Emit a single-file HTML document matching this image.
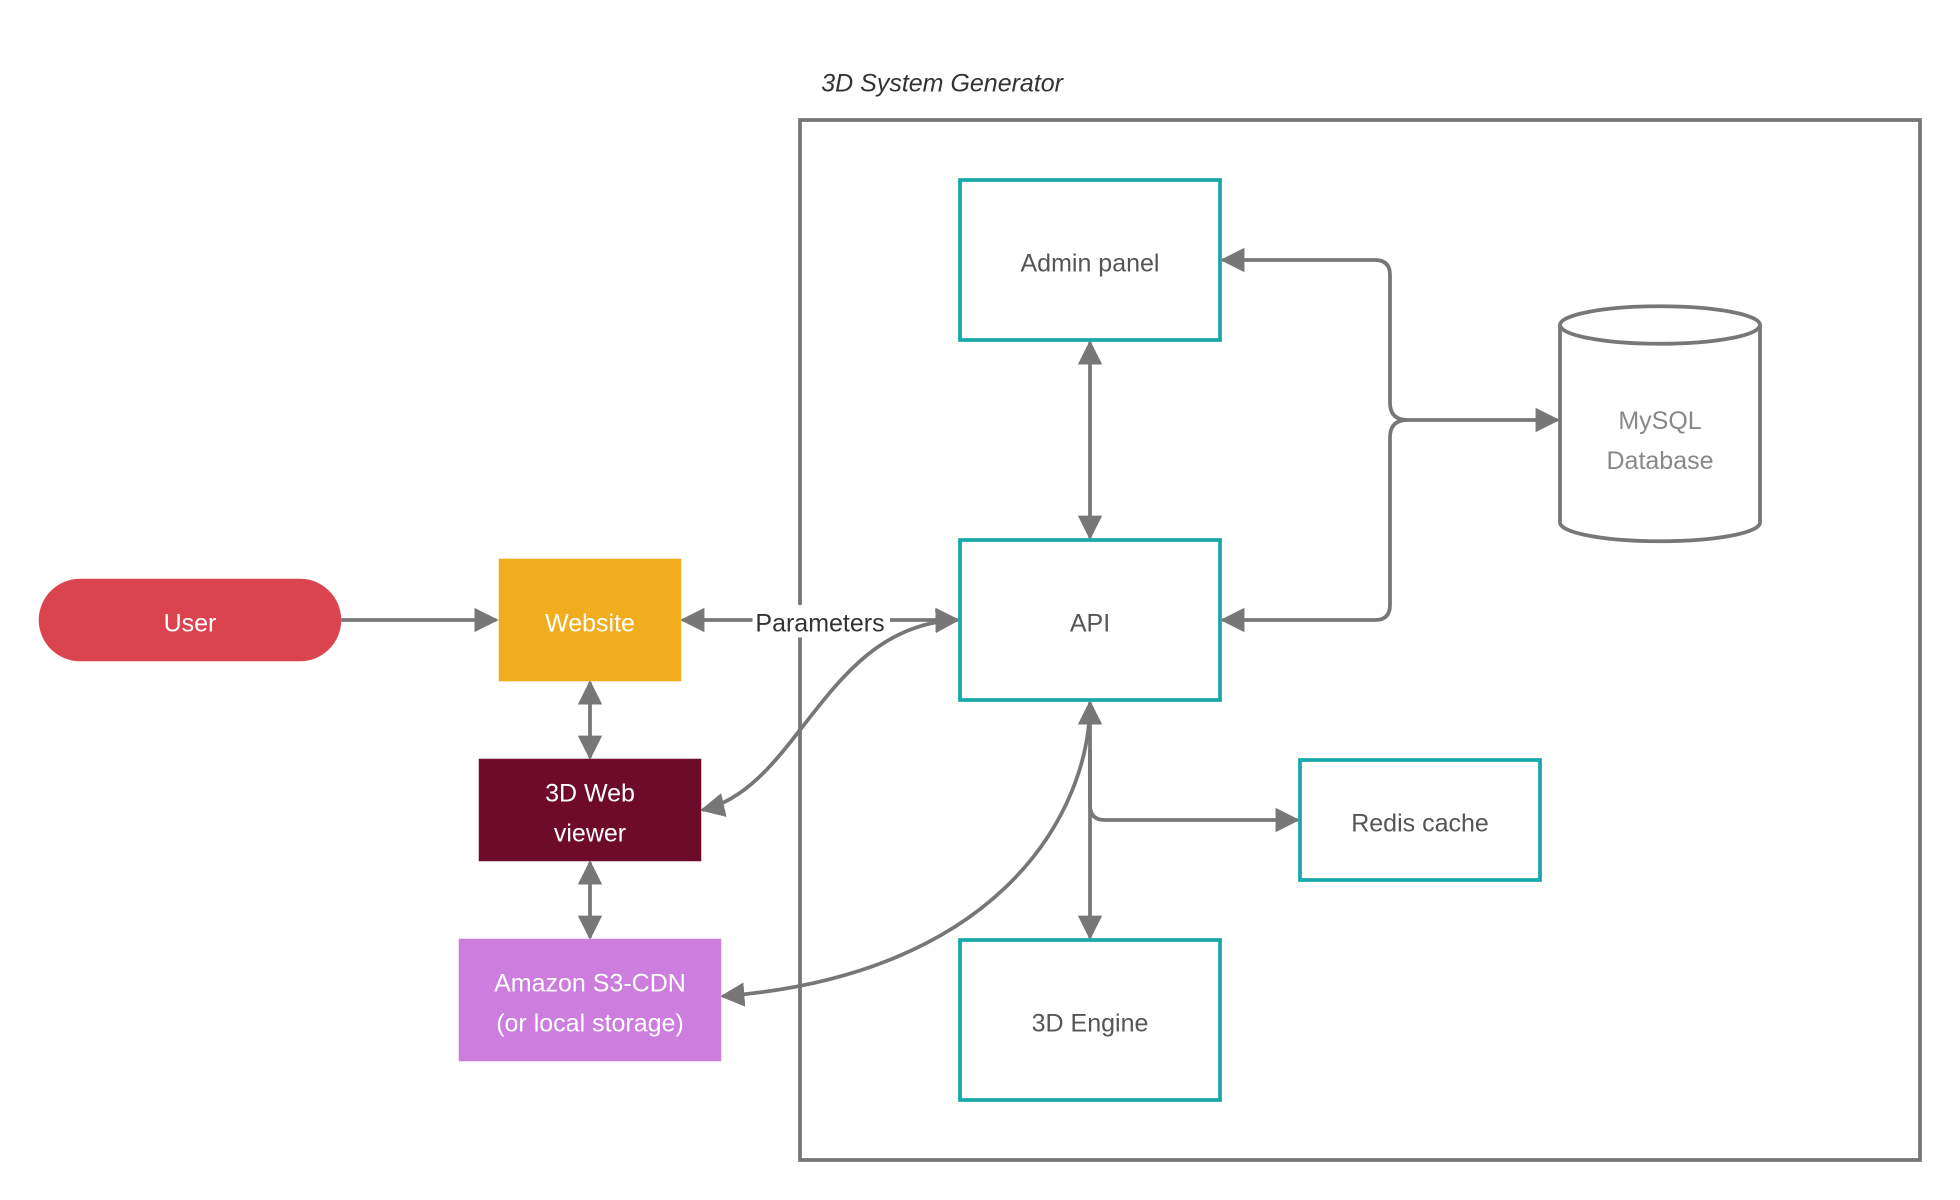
<!DOCTYPE html>
<html><head><meta charset="utf-8"><style>
html,body{margin:0;padding:0;background:#fff;}
svg{display:block;}
text{font-family:"Liberation Sans",sans-serif;}
</style></head><body>
<svg width="1960" height="1200" viewBox="0 0 1568 960" xmlns="http://www.w3.org/2000/svg">
<defs>
<marker id="a" viewBox="0 0 10 10" refX="9" refY="5" markerWidth="6.5" markerHeight="6.5" orient="auto-start-reverse" markerUnits="strokeWidth">
<path d="M0,0 L10,5 L0,10 z" fill="#777"/></marker>
</defs>
<text x="657" y="73" font-size="20" font-style="italic" fill="#333">3D System Generator</text>
<rect x="640" y="96" width="896" height="832" fill="none" stroke="#777" stroke-width="3"/>
<g fill="none" stroke="#777" stroke-width="3">
<path d="M273,496 H397" marker-end="url(#a)"/>
<path d="M546,496 H766" marker-start="url(#a)" marker-end="url(#a)"/>
<path d="M472,546 V606" marker-start="url(#a)" marker-end="url(#a)"/>
<path d="M472,690 V750" marker-start="url(#a)" marker-end="url(#a)"/>
<path d="M562,648 C640,630 660,500 766,496" marker-start="url(#a)" marker-end="url(#a)"/>
<path d="M578,797 C800,780 872,650 872,562" marker-start="url(#a)" marker-end="url(#a)"/>
<path d="M872,274 V430" marker-start="url(#a)" marker-end="url(#a)"/>
<path d="M978,208 H1100 Q1112,208 1112,220 V322 Q1112,336 1126,336 H1246" marker-start="url(#a)" marker-end="url(#a)"/>
<path d="M978,496 H1100 Q1112,496 1112,484 V350 Q1112,336 1126,336"  marker-start="url(#a)"/>
<path d="M872,562 V644 Q872,656 884,656 H1038" marker-end="url(#a)"/>
<path d="M872,600 V750" marker-end="url(#a)"/>
</g>
<rect x="602" y="484" width="110" height="26" fill="#fff"/>
<text x="656" y="505" font-size="20" fill="#333" text-anchor="middle">Parameters</text>
<g fill="#fff" stroke="#1aa9a9" stroke-width="3">
<rect x="768" y="144" width="208" height="128"/>
<rect x="768" y="432" width="208" height="128"/>
<rect x="1040" y="608" width="192" height="96"/>
<rect x="768" y="752" width="208" height="128"/>
</g>
<g font-size="20" fill="#555" text-anchor="middle">
<text x="872" y="217">Admin panel</text>
<text x="872" y="505">API</text>
<text x="1136" y="665">Redis cache</text>
<text x="872" y="825">3D Engine</text>
</g>
<path d="M1248,260 V418 A80,15 0 0 0 1408,418 V260" fill="#fff" stroke="#777" stroke-width="3"/>
<ellipse cx="1328" cy="260" rx="80" ry="15" fill="#fff" stroke="#777" stroke-width="3"/>
<text x="1328" y="343" font-size="20" fill="#888" text-anchor="middle">MySQL</text>
<text x="1328" y="375" font-size="20" fill="#888" text-anchor="middle">Database</text>
<rect x="31" y="463" width="242" height="66" rx="33" fill="#d9444f"/>
<rect x="399" y="447" width="146" height="98" fill="#f0ae1e"/>
<rect x="383" y="607" width="178" height="82" fill="#6e0b2a"/>
<rect x="367" y="751" width="210" height="98" fill="#cc7ddd"/>
<g font-size="20" fill="#fff" text-anchor="middle">
<text x="152" y="505">User</text>
<text x="472" y="505">Website</text>
<text x="472" y="641">3D Web</text>
<text x="472" y="673">viewer</text>
<text x="472" y="793">Amazon S3-CDN</text>
<text x="472" y="825">(or local storage)</text>
</g>
</svg>
</body></html>
